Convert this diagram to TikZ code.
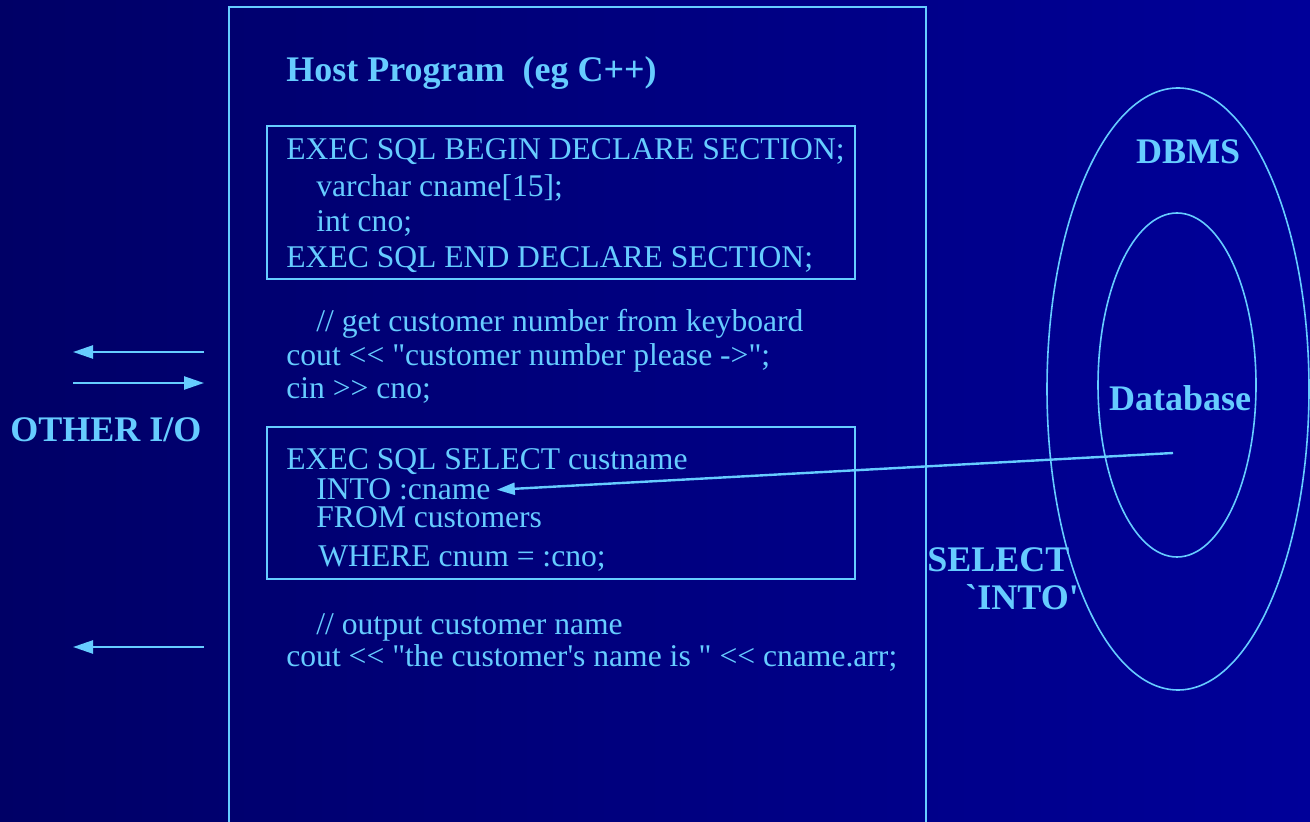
\documentclass[tikz,border=0pt]{standalone}
\usepackage{fontspec}
\setmainfont{Liberation Serif}[Ligatures=TeXOff]
\usepackage{tikz}
\usetikzlibrary{arrows.meta}
\definecolor{bgleft}{RGB}{0,0,102}
\definecolor{bgright}{RGB}{0,0,153}
\definecolor{linecolor}{RGB}{102,204,255}
\tikzset{
  code line/.style={
    anchor=base west,
    inner sep=0pt,
    text=linecolor,
    font=\fontsize{15.8}{18}\selectfont
  },
  bold label/.style={
    inner sep=0pt,
    text=linecolor,
    font=\fontsize{18}{20}\selectfont\bfseries
  },
  frame line/.style={
    draw=linecolor,
    line width=1pt
  },
  ring/.style={
    draw=linecolor,
    line width=0.8pt
  },
  arrow/.style={
    -{Triangle[length=10pt,width=6.5pt]},
    draw=linecolor,
    line width=1.2pt
  }
}

\begin{document}
\begin{tikzpicture}[x=0.5pt,y=-0.5pt]
  % Background
  \useasboundingbox (0,0) rectangle (1310,822);
  \shade[left color=bgleft, right color=bgright] (0,0) rectangle (1310,822);
  \clip (0,0) rectangle (1310,822);

  % Host program frame
  \draw[frame line] (229,840) -- (229,7) -- (926,7) -- (926,840);
  \node[bold label, anchor=base west] (title) at (286,82) {Host Program\ \ (eg C++)};

  % Declare section
  \draw[frame line] (267,126) rectangle (855,279);
  \node[code line] (decl1) at (286,160) {EXEC SQL BEGIN DECLARE SECTION;};
  \node[code line] (decl2) at (316,197) {varchar cname[15];};
  \node[code line] (decl3) at (316,232) {int cno;};
  \node[code line] (decl4) at (286,268) {EXEC SQL END DECLARE SECTION;};

  % Keyboard input
  \node[code line] (get1) at (316,332) {// get customer number from keyboard};
  \node[code line] (get2) at (286,366) {cout << "customer number please ->";};
  \node[code line] (get3) at (286,399) {cin >> cno;};

  % Select into
  \draw[frame line] (267,427) rectangle (855,579);
  \node[code line] (sel1) at (286,470) {EXEC SQL SELECT custname};
  \node[code line] (into) at (316,500) {INTO :cname};
  \node[code line] (sel3) at (316,528) {FROM customers};
  \node[code line] (sel4) at (318,567) {WHERE cnum = :cno;};

  % Output
  \node[code line] (out1) at (316,634) {// output customer name};
  \node[code line] (out2) at (286,666) {cout << "the customer's name is " << cname.arr;};

  % Other I/O
  \node[bold label, anchor=west] (otherio) at (10,430) {OTHER I/O};
  \coordinate (inA) at (204,352);
  \coordinate (inB) at (73,352);
  \coordinate (outA) at (73,383);
  \coordinate (outB) at (204,383);
  \coordinate (resA) at (204,647);
  \coordinate (resB) at (73,647);
  \draw[arrow] (inA) -- (inB);
  \draw[arrow] (outA) -- (outB);
  \draw[arrow] (resA) -- (resB);

  % DBMS and database
  \draw[ring] (1178,389) ellipse [x radius=131, y radius=301];
  \draw[ring] (1177,385) ellipse [x radius=79, y radius=172];
  \node[bold label] (dbms) at (1188,152) {DBMS};
  \node[bold label] (db) at (1180,398) {Database};
  \coordinate (dbpt) at (1173,453);
  \draw[arrow, -{Triangle[length=9pt,width=6pt]}] (dbpt) -- ([xshift=3]into.east);
  \node[bold label, anchor=west] (select) at (927,560) {SELECT};
  \node[bold label, anchor=west] (selinto) at (965,597) {`INTO'};
\end{tikzpicture}
\end{document}
